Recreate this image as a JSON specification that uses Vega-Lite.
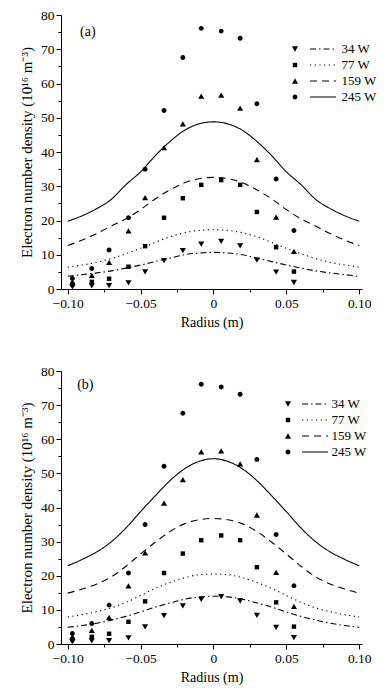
{
  "$schema": "https://vega.github.io/schema/vega-lite/v6.json",
  "padding": {"left": 19, "top": 8, "right": 0, "bottom": 0},
  "config": {
    "font": "Liberation Serif",
    "view": {"stroke": null},
    "axis": {"labelFont": "Liberation Serif", "titleFont": "Liberation Serif", "labelFontSize": 13.5, "titleFontSize": 14, "labelColor": "black", "titleColor": "black", "domainColor": "black", "tickColor": "black", "titleFontWeight": "normal", "grid": false, "labelPadding": 2, "domainWidth": 1, "tickWidth": 1},
    "legend": {"labelFont": "Liberation Serif", "labelColor": "black"}
  },
  "datasets": {
    "pts": [
      {"series": "34 W", "p": 34, "r": -0.0968, "n": 0.6}, {"series": "77 W", "p": 77, "r": -0.0968, "n": 1.4}, {"series": "159 W", "p": 159, "r": -0.0968, "n": 2.1}, {"series": "245 W", "p": 245, "r": -0.0968, "n": 3.1},
      {"series": "34 W", "p": 34, "r": -0.0835, "n": 0.9}, {"series": "77 W", "p": 77, "r": -0.0835, "n": 2.1}, {"series": "159 W", "p": 159, "r": -0.0835, "n": 4.0}, {"series": "245 W", "p": 245, "r": -0.0835, "n": 6.0},
      {"series": "34 W", "p": 34, "r": -0.0716, "n": 1.0}, {"series": "77 W", "p": 77, "r": -0.0716, "n": 3.0}, {"series": "159 W", "p": 159, "r": -0.0716, "n": 7.8}, {"series": "245 W", "p": 245, "r": -0.0716, "n": 11.4},
      {"series": "34 W", "p": 34, "r": -0.0583, "n": 1.8}, {"series": "77 W", "p": 77, "r": -0.0583, "n": 6.5}, {"series": "159 W", "p": 159, "r": -0.0583, "n": 17.0}, {"series": "245 W", "p": 245, "r": -0.0583, "n": 20.8},
      {"series": "34 W", "p": 34, "r": -0.0469, "n": 5.0}, {"series": "77 W", "p": 77, "r": -0.0469, "n": 12.5}, {"series": "159 W", "p": 159, "r": -0.0469, "n": 26.7}, {"series": "245 W", "p": 245, "r": -0.0469, "n": 35.0},
      {"series": "34 W", "p": 34, "r": -0.0339, "n": 8.3}, {"series": "77 W", "p": 77, "r": -0.0339, "n": 20.8}, {"series": "159 W", "p": 159, "r": -0.0339, "n": 41.3}, {"series": "245 W", "p": 245, "r": -0.0339, "n": 52.1},
      {"series": "34 W", "p": 34, "r": -0.021, "n": 11.2}, {"series": "77 W", "p": 77, "r": -0.021, "n": 26.5}, {"series": "159 W", "p": 159, "r": -0.021, "n": 48.2}, {"series": "245 W", "p": 245, "r": -0.021, "n": 67.6},
      {"series": "34 W", "p": 34, "r": -0.0084, "n": 13.1}, {"series": "77 W", "p": 77, "r": -0.0084, "n": 30.4}, {"series": "159 W", "p": 159, "r": -0.0084, "n": 56.3}, {"series": "245 W", "p": 245, "r": -0.0084, "n": 76.1},
      {"series": "34 W", "p": 34, "r": 0.0053, "n": 13.9}, {"series": "77 W", "p": 77, "r": 0.0053, "n": 31.8}, {"series": "159 W", "p": 159, "r": 0.0053, "n": 56.6}, {"series": "245 W", "p": 245, "r": 0.0053, "n": 75.3},
      {"series": "34 W", "p": 34, "r": 0.0183, "n": 12.6}, {"series": "77 W", "p": 77, "r": 0.0183, "n": 30.4}, {"series": "159 W", "p": 159, "r": 0.0183, "n": 52.8}, {"series": "245 W", "p": 245, "r": 0.0183, "n": 73.2},
      {"series": "34 W", "p": 34, "r": 0.0298, "n": 8.4}, {"series": "77 W", "p": 77, "r": 0.0298, "n": 22.5}, {"series": "159 W", "p": 159, "r": 0.0298, "n": 37.8}, {"series": "245 W", "p": 245, "r": 0.0298, "n": 54.1},
      {"series": "34 W", "p": 34, "r": 0.043, "n": 4.9}, {"series": "77 W", "p": 77, "r": 0.043, "n": 12.2}, {"series": "159 W", "p": 159, "r": 0.043, "n": 21.0}, {"series": "245 W", "p": 245, "r": 0.043, "n": 32.1},
      {"series": "34 W", "p": 34, "r": 0.0552, "n": 1.9}, {"series": "77 W", "p": 77, "r": 0.0552, "n": 5.1}, {"series": "159 W", "p": 159, "r": 0.0552, "n": 11.0}, {"series": "245 W", "p": 245, "r": 0.0552, "n": 17.1}
    ],
    "la": [
      {"series": "34 W", "p": 34, "r": -0.10, "n": 3.7}, {"series": "34 W", "p": 34, "r": -0.09, "n": 4.2}, {"series": "34 W", "p": 34, "r": -0.08, "n": 4.7}, {"series": "34 W", "p": 34, "r": -0.07, "n": 5.3}, {"series": "34 W", "p": 34, "r": -0.06, "n": 6.1}, {"series": "34 W", "p": 34, "r": -0.05, "n": 7.0}, {"series": "34 W", "p": 34, "r": -0.04, "n": 8.0}, {"series": "34 W", "p": 34, "r": -0.03, "n": 9.0}, {"series": "34 W", "p": 34, "r": -0.02, "n": 10.0}, {"series": "34 W", "p": 34, "r": -0.01, "n": 10.5}, {"series": "34 W", "p": 34, "r": 0, "n": 10.7}, {"series": "34 W", "p": 34, "r": 0.01, "n": 10.5}, {"series": "34 W", "p": 34, "r": 0.02, "n": 10.0}, {"series": "34 W", "p": 34, "r": 0.03, "n": 9.0}, {"series": "34 W", "p": 34, "r": 0.04, "n": 8.0}, {"series": "34 W", "p": 34, "r": 0.05, "n": 7.0}, {"series": "34 W", "p": 34, "r": 0.06, "n": 6.1}, {"series": "34 W", "p": 34, "r": 0.07, "n": 5.3}, {"series": "34 W", "p": 34, "r": 0.08, "n": 4.7}, {"series": "34 W", "p": 34, "r": 0.09, "n": 4.2}, {"series": "34 W", "p": 34, "r": 0.10, "n": 3.7},
      {"series": "77 W", "p": 77, "r": -0.10, "n": 6.4}, {"series": "77 W", "p": 77, "r": -0.09, "n": 7.0}, {"series": "77 W", "p": 77, "r": -0.08, "n": 7.8}, {"series": "77 W", "p": 77, "r": -0.07, "n": 8.9}, {"series": "77 W", "p": 77, "r": -0.06, "n": 10.3}, {"series": "77 W", "p": 77, "r": -0.05, "n": 11.9}, {"series": "77 W", "p": 77, "r": -0.04, "n": 13.6}, {"series": "77 W", "p": 77, "r": -0.03, "n": 15.2}, {"series": "77 W", "p": 77, "r": -0.02, "n": 16.4}, {"series": "77 W", "p": 77, "r": -0.01, "n": 17.1}, {"series": "77 W", "p": 77, "r": 0, "n": 17.3}, {"series": "77 W", "p": 77, "r": 0.01, "n": 17.1}, {"series": "77 W", "p": 77, "r": 0.02, "n": 16.4}, {"series": "77 W", "p": 77, "r": 0.03, "n": 15.2}, {"series": "77 W", "p": 77, "r": 0.04, "n": 13.6}, {"series": "77 W", "p": 77, "r": 0.05, "n": 11.9}, {"series": "77 W", "p": 77, "r": 0.06, "n": 10.3}, {"series": "77 W", "p": 77, "r": 0.07, "n": 8.9}, {"series": "77 W", "p": 77, "r": 0.08, "n": 7.8}, {"series": "77 W", "p": 77, "r": 0.09, "n": 7.0}, {"series": "77 W", "p": 77, "r": 0.10, "n": 6.4},
      {"series": "159 W", "p": 159, "r": -0.10, "n": 12.7}, {"series": "159 W", "p": 159, "r": -0.09, "n": 14.3}, {"series": "159 W", "p": 159, "r": -0.08, "n": 16.2}, {"series": "159 W", "p": 159, "r": -0.07, "n": 18.4}, {"series": "159 W", "p": 159, "r": -0.06, "n": 20.5}, {"series": "159 W", "p": 159, "r": -0.05, "n": 23.2}, {"series": "159 W", "p": 159, "r": -0.04, "n": 26.3}, {"series": "159 W", "p": 159, "r": -0.03, "n": 28.9}, {"series": "159 W", "p": 159, "r": -0.02, "n": 31.0}, {"series": "159 W", "p": 159, "r": -0.01, "n": 32.2}, {"series": "159 W", "p": 159, "r": 0, "n": 32.6}, {"series": "159 W", "p": 159, "r": 0.01, "n": 32.2}, {"series": "159 W", "p": 159, "r": 0.02, "n": 31.0}, {"series": "159 W", "p": 159, "r": 0.03, "n": 28.9}, {"series": "159 W", "p": 159, "r": 0.04, "n": 26.3}, {"series": "159 W", "p": 159, "r": 0.05, "n": 23.2}, {"series": "159 W", "p": 159, "r": 0.06, "n": 20.5}, {"series": "159 W", "p": 159, "r": 0.07, "n": 18.4}, {"series": "159 W", "p": 159, "r": 0.08, "n": 16.2}, {"series": "159 W", "p": 159, "r": 0.09, "n": 14.3}, {"series": "159 W", "p": 159, "r": 0.10, "n": 12.7},
      {"series": "245 W", "p": 245, "r": -0.10, "n": 19.8}, {"series": "245 W", "p": 245, "r": -0.09, "n": 21.4}, {"series": "245 W", "p": 245, "r": -0.08, "n": 23.5}, {"series": "245 W", "p": 245, "r": -0.07, "n": 26.2}, {"series": "245 W", "p": 245, "r": -0.06, "n": 30.5}, {"series": "245 W", "p": 245, "r": -0.05, "n": 34.2}, {"series": "245 W", "p": 245, "r": -0.04, "n": 38.9}, {"series": "245 W", "p": 245, "r": -0.03, "n": 43.0}, {"series": "245 W", "p": 245, "r": -0.02, "n": 46.3}, {"series": "245 W", "p": 245, "r": -0.01, "n": 48.2}, {"series": "245 W", "p": 245, "r": 0, "n": 48.8}, {"series": "245 W", "p": 245, "r": 0.01, "n": 48.2}, {"series": "245 W", "p": 245, "r": 0.02, "n": 46.3}, {"series": "245 W", "p": 245, "r": 0.03, "n": 43.0}, {"series": "245 W", "p": 245, "r": 0.04, "n": 38.9}, {"series": "245 W", "p": 245, "r": 0.05, "n": 34.2}, {"series": "245 W", "p": 245, "r": 0.06, "n": 30.5}, {"series": "245 W", "p": 245, "r": 0.07, "n": 26.2}, {"series": "245 W", "p": 245, "r": 0.08, "n": 23.5}, {"series": "245 W", "p": 245, "r": 0.09, "n": 21.4}, {"series": "245 W", "p": 245, "r": 0.10, "n": 19.8}
    ],
    "lb": [
      {"series": "34 W", "p": 34, "r": -0.10, "n": 4.9}, {"series": "34 W", "p": 34, "r": -0.09, "n": 5.4}, {"series": "34 W", "p": 34, "r": -0.08, "n": 6.1}, {"series": "34 W", "p": 34, "r": -0.07, "n": 7.0}, {"series": "34 W", "p": 34, "r": -0.06, "n": 8.1}, {"series": "34 W", "p": 34, "r": -0.05, "n": 9.4}, {"series": "34 W", "p": 34, "r": -0.04, "n": 10.8}, {"series": "34 W", "p": 34, "r": -0.03, "n": 12.0}, {"series": "34 W", "p": 34, "r": -0.02, "n": 13.1}, {"series": "34 W", "p": 34, "r": -0.01, "n": 13.8}, {"series": "34 W", "p": 34, "r": 0, "n": 14.0}, {"series": "34 W", "p": 34, "r": 0.01, "n": 13.8}, {"series": "34 W", "p": 34, "r": 0.02, "n": 13.1}, {"series": "34 W", "p": 34, "r": 0.03, "n": 12.0}, {"series": "34 W", "p": 34, "r": 0.04, "n": 10.8}, {"series": "34 W", "p": 34, "r": 0.05, "n": 9.4}, {"series": "34 W", "p": 34, "r": 0.06, "n": 8.1}, {"series": "34 W", "p": 34, "r": 0.07, "n": 7.0}, {"series": "34 W", "p": 34, "r": 0.08, "n": 6.1}, {"series": "34 W", "p": 34, "r": 0.09, "n": 5.4}, {"series": "34 W", "p": 34, "r": 0.10, "n": 4.9},
      {"series": "77 W", "p": 77, "r": -0.10, "n": 7.9}, {"series": "77 W", "p": 77, "r": -0.09, "n": 8.6}, {"series": "77 W", "p": 77, "r": -0.08, "n": 9.5}, {"series": "77 W", "p": 77, "r": -0.07, "n": 10.6}, {"series": "77 W", "p": 77, "r": -0.06, "n": 12.2}, {"series": "77 W", "p": 77, "r": -0.05, "n": 14.2}, {"series": "77 W", "p": 77, "r": -0.04, "n": 16.3}, {"series": "77 W", "p": 77, "r": -0.03, "n": 18.0}, {"series": "77 W", "p": 77, "r": -0.02, "n": 19.4}, {"series": "77 W", "p": 77, "r": -0.01, "n": 20.3}, {"series": "77 W", "p": 77, "r": 0, "n": 20.5}, {"series": "77 W", "p": 77, "r": 0.01, "n": 20.3}, {"series": "77 W", "p": 77, "r": 0.02, "n": 19.4}, {"series": "77 W", "p": 77, "r": 0.03, "n": 18.0}, {"series": "77 W", "p": 77, "r": 0.04, "n": 16.3}, {"series": "77 W", "p": 77, "r": 0.05, "n": 14.2}, {"series": "77 W", "p": 77, "r": 0.06, "n": 12.2}, {"series": "77 W", "p": 77, "r": 0.07, "n": 10.6}, {"series": "77 W", "p": 77, "r": 0.08, "n": 9.5}, {"series": "77 W", "p": 77, "r": 0.09, "n": 8.6}, {"series": "77 W", "p": 77, "r": 0.10, "n": 7.9},
      {"series": "159 W", "p": 159, "r": -0.10, "n": 14.9}, {"series": "159 W", "p": 159, "r": -0.09, "n": 16.1}, {"series": "159 W", "p": 159, "r": -0.08, "n": 17.6}, {"series": "159 W", "p": 159, "r": -0.07, "n": 19.7}, {"series": "159 W", "p": 159, "r": -0.06, "n": 22.8}, {"series": "159 W", "p": 159, "r": -0.05, "n": 26.4}, {"series": "159 W", "p": 159, "r": -0.04, "n": 29.8}, {"series": "159 W", "p": 159, "r": -0.03, "n": 32.9}, {"series": "159 W", "p": 159, "r": -0.02, "n": 35.2}, {"series": "159 W", "p": 159, "r": -0.01, "n": 36.4}, {"series": "159 W", "p": 159, "r": 0, "n": 36.8}, {"series": "159 W", "p": 159, "r": 0.01, "n": 36.4}, {"series": "159 W", "p": 159, "r": 0.02, "n": 35.2}, {"series": "159 W", "p": 159, "r": 0.03, "n": 32.9}, {"series": "159 W", "p": 159, "r": 0.04, "n": 29.8}, {"series": "159 W", "p": 159, "r": 0.05, "n": 26.4}, {"series": "159 W", "p": 159, "r": 0.06, "n": 22.8}, {"series": "159 W", "p": 159, "r": 0.07, "n": 19.7}, {"series": "159 W", "p": 159, "r": 0.08, "n": 17.6}, {"series": "159 W", "p": 159, "r": 0.09, "n": 16.1}, {"series": "159 W", "p": 159, "r": 0.10, "n": 14.9},
      {"series": "245 W", "p": 245, "r": -0.10, "n": 22.9}, {"series": "245 W", "p": 245, "r": -0.09, "n": 24.8}, {"series": "245 W", "p": 245, "r": -0.08, "n": 27.0}, {"series": "245 W", "p": 245, "r": -0.07, "n": 30.0}, {"series": "245 W", "p": 245, "r": -0.06, "n": 34.0}, {"series": "245 W", "p": 245, "r": -0.05, "n": 38.8}, {"series": "245 W", "p": 245, "r": -0.04, "n": 43.4}, {"series": "245 W", "p": 245, "r": -0.03, "n": 47.8}, {"series": "245 W", "p": 245, "r": -0.02, "n": 51.3}, {"series": "245 W", "p": 245, "r": -0.01, "n": 53.5}, {"series": "245 W", "p": 245, "r": 0, "n": 54.3}, {"series": "245 W", "p": 245, "r": 0.01, "n": 53.5}, {"series": "245 W", "p": 245, "r": 0.02, "n": 51.3}, {"series": "245 W", "p": 245, "r": 0.03, "n": 47.8}, {"series": "245 W", "p": 245, "r": 0.04, "n": 43.4}, {"series": "245 W", "p": 245, "r": 0.05, "n": 38.8}, {"series": "245 W", "p": 245, "r": 0.06, "n": 34.0}, {"series": "245 W", "p": 245, "r": 0.07, "n": 30.0}, {"series": "245 W", "p": 245, "r": 0.08, "n": 27.0}, {"series": "245 W", "p": 245, "r": 0.09, "n": 24.8}, {"series": "245 W", "p": 245, "r": 0.10, "n": 22.9}
    ]
  },
  "spacing": 34,
  "resolve": {
    "scale": {"shape": "independent", "strokeDash": "independent"},
    "legend": {"shape": "independent", "strokeDash": "independent"}
  },
  "vconcat": [
    {
      "width": 301,
      "height": 274,
      "resolve": {"axis": {"x": "independent", "y": "independent"}},
      "layer": [
        {
          "data": {"name": "la"},
          "mark": {"type": "line", "color": "black", "strokeWidth": 1.1, "interpolate": "monotone"},
          "encoding": {
            "x": {"field": "r", "type": "quantitative", "scale": {"domain": [-0.1046, 0.1019], "nice": false, "zero": false},
                  "axis": {"orient": "bottom", "values": [-0.1, -0.075, -0.05, -0.025, 0, 0.025, 0.05, 0.075, 0.1], "labels": false, "title": null, "tickSize": 3, "domain": false}},
            "y": {"field": "n", "type": "quantitative", "scale": {"domain": [0, 80], "nice": false},
                  "axis": {"orient": "left", "values": [0, 5, 10, 15, 20, 25, 30, 35, 40, 45, 50, 55, 60, 65, 70, 75, 80], "labels": false, "title": null, "tickSize": 3, "domain": false}},
            "strokeDash": {"field": "series", "type": "nominal", "sort": {"field": "p", "op": "min"},
                  "scale": {"range": [[6, 3, 1.5, 3], [1.2, 3.5], [7, 5], [1, 0]]},
                  "legend": {"orient": "none", "legendX": 255.5, "legendY": 27.5, "title": null, "symbolType": "M-2.1667,0H2.1667", "symbolSize": 144, "symbolStrokeWidth": 1, "symbolStrokeColor": "black", "labelFontSize": 13, "labelOffset": 12, "rowPadding": 2, "padding": 0}}
          }
        },
        {
          "data": {"name": "pts"},
          "mark": {"type": "point", "filled": true, "color": "black", "opacity": 1, "size": 24, "strokeWidth": 0},
          "encoding": {
            "x": {"field": "r", "type": "quantitative",
                  "axis": {"orient": "bottom", "values": [-0.1, -0.05, 0, 0.05, 0.1], "labelExpr": "datum.value === 0 ? '0' : format(datum.value, '.2f')", "title": "Radius (m)", "tickSize": 5, "titlePadding": 6}},
            "y": {"field": "n", "type": "quantitative",
                  "axis": {"orient": "left", "values": [0, 10, 20, 30, 40, 50, 60, 70, 80], "title": "Electron number density (10¹⁶ m⁻³)", "titleFontSize": 15, "tickSize": 5, "titlePadding": 6}},
            "shape": {"field": "series", "type": "nominal", "sort": {"field": "p", "op": "min"},
                  "scale": {"range": ["M0,1.075L1.25,-1.075L-1.25,-1.075Z", "M-0.9,-0.9H0.9V0.9H-0.9Z", "M0,-1.075L1.25,1.075L-1.25,1.075Z", "M1,0A1,1,0,1,1,-1,0A1,1,0,1,1,1,0Z"]},
                  "legend": {"orient": "none", "legendX": 227.5, "legendY": 27.5, "title": null, "symbolSize": 24, "symbolStrokeWidth": 0, "symbolFillColor": "black", "labelFontSize": 13, "labelOpacity": 0, "rowPadding": 2, "padding": 0}}
          }
        },
        {
          "data": {"values": [{}]},
          "mark": {"type": "text", "text": "(a)", "align": "left", "baseline": "middle", "fontSize": 14, "font": "Liberation Serif", "color": "black"},
          "encoding": {
            "x": {"datum": -0.0915, "type": "quantitative", "axis": null},
            "y": {"datum": 75, "type": "quantitative", "axis": null}
          }
        }
      ]
    },
    {
      "width": 301,
      "height": 273,
      "resolve": {"axis": {"x": "independent", "y": "independent"}},
      "layer": [
        {
          "data": {"name": "lb"},
          "mark": {"type": "line", "color": "black", "strokeWidth": 1.1, "interpolate": "monotone"},
          "encoding": {
            "x": {"field": "r", "type": "quantitative", "scale": {"domain": [-0.1046, 0.1019], "nice": false, "zero": false},
                  "axis": {"orient": "bottom", "values": [-0.1, -0.075, -0.05, -0.025, 0, 0.025, 0.05, 0.075, 0.1], "labels": false, "title": null, "tickSize": 3, "domain": false}},
            "y": {"field": "n", "type": "quantitative", "scale": {"domain": [0, 80], "nice": false},
                  "axis": {"orient": "left", "values": [0, 5, 10, 15, 20, 25, 30, 35, 40, 45, 50, 55, 60, 65, 70, 75, 80], "labels": false, "title": null, "tickSize": 3, "domain": false}},
            "strokeDash": {"field": "series", "type": "nominal", "sort": {"field": "p", "op": "min"},
                  "scale": {"range": [[6, 3, 1.5, 3], [1.2, 3.5], [7, 5], [1, 0]]},
                  "legend": {"orient": "none", "legendX": 247.5, "legendY": 26.5, "title": null, "symbolType": "M-2.1667,0H2.1667", "symbolSize": 144, "symbolStrokeWidth": 1, "symbolStrokeColor": "black", "labelFontSize": 13, "labelOffset": 10, "rowPadding": 2, "padding": 0}}
          }
        },
        {
          "data": {"name": "pts"},
          "mark": {"type": "point", "filled": true, "color": "black", "opacity": 1, "size": 24, "strokeWidth": 0},
          "encoding": {
            "x": {"field": "r", "type": "quantitative",
                  "axis": {"orient": "bottom", "values": [-0.1, -0.05, 0, 0.05, 0.1], "labelExpr": "datum.value === 0 ? '0' : format(datum.value, '.2f')", "title": "Radius (m)", "tickSize": 5, "titlePadding": 6}},
            "y": {"field": "n", "type": "quantitative",
                  "axis": {"orient": "left", "values": [0, 10, 20, 30, 40, 50, 60, 70, 80], "title": "Electron number density (10¹⁶ m⁻³)", "titleFontSize": 15, "tickSize": 5, "titlePadding": 6}},
            "shape": {"field": "series", "type": "nominal", "sort": {"field": "p", "op": "min"},
                  "scale": {"range": ["M0,1.075L1.25,-1.075L-1.25,-1.075Z", "M-0.9,-0.9H0.9V0.9H-0.9Z", "M0,-1.075L1.25,1.075L-1.25,1.075Z", "M1,0A1,1,0,1,1,-1,0A1,1,0,1,1,1,0Z"]},
                  "legend": {"orient": "none", "legendX": 220.5, "legendY": 26.5, "title": null, "symbolSize": 24, "symbolStrokeWidth": 0, "symbolFillColor": "black", "labelFontSize": 13, "labelOpacity": 0, "rowPadding": 2, "padding": 0}}
          }
        },
        {
          "data": {"values": [{}]},
          "mark": {"type": "text", "text": "(b)", "align": "left", "baseline": "middle", "fontSize": 14, "font": "Liberation Serif", "color": "black"},
          "encoding": {
            "x": {"datum": -0.0935, "type": "quantitative", "axis": null},
            "y": {"datum": 76, "type": "quantitative", "axis": null}
          }
        }
      ]
    }
  ]
}
